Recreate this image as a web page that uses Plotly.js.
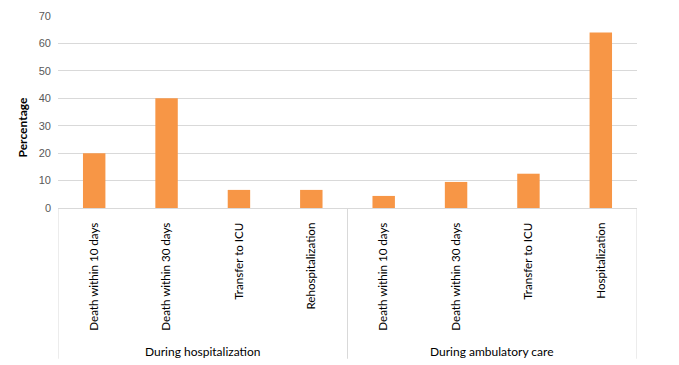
<!DOCTYPE html>
<html>
<head>
<meta charset="utf-8">
<script src="https://cdn.plot.ly/plotly-3.0.1.min.js"></script>
<style>html,body{margin:0;padding:0;background:#fff;}#chart{width:679px;height:365px;}</style>
</head>
<body>
<div id="chart"></div>
<script>
var groups = ["During hospitalization","During hospitalization","During hospitalization","During hospitalization",
              "During ambulatory care","During ambulatory care","During ambulatory care","During ambulatory care"];
var categories = ["Death within 10 days","Death within 30 days","Transfer to ICU","Rehospitalization",
                  "Death within 10 days","Death within 30 days","Transfer to ICU","Hospitalization"];
var percentages = [20, 40, 6.6, 6.6, 4.4, 9.5, 12.5, 64];
var yTicks = [0, 10, 20, 30, 40, 50, 60, 70];

var FONT = 'Lato, "Open Sans", sans-serif';
var idx = categories.map(function(c, i){ return i; });

// group spans derived from the groups array
var spans = [];
groups.forEach(function(g, i){
  if (!spans.length || spans[spans.length-1].name !== g) spans.push({name: g, start: i, end: i});
  else spans[spans.length-1].end = i;
});

var GROUP_Y = -0.745, DIV_BOTTOM = -0.785;
var shapes = [];
var annotations = [];
var bounds = [-0.5];
spans.forEach(function(s){ bounds.push(s.end + 0.5); });
bounds.forEach(function(b){
  shapes.push({type: 'line', xref: 'x', yref: 'paper', x0: b, x1: b, y0: 0, y1: DIV_BOTTOM,
               line: {color: '#D9D9D9', width: 1}});
});
spans.forEach(function(s){
  annotations.push({xref: 'x', yref: 'paper', x: (s.start + s.end) / 2, y: GROUP_Y,
                    text: s.name, showarrow: false, xanchor: 'center', yanchor: 'middle',
                    font: {family: FONT, size: 12, color: '#000000'}});
});
annotations.push({xref: 'paper', yref: 'paper', x: -0.062, y: 0.42, text: '<b>Percentage</b>',
                  textangle: -90, showarrow: false, xanchor: 'center', yanchor: 'middle',
                  font: {family: FONT, size: 12, color: '#000000'}});

var trace = {
  type: 'bar',
  x: idx,
  y: percentages,
  marker: {color: '#F79646'},
  width: 0.31,
  hoverinfo: 'y'
};

var layout = {
  width: 679, height: 365,
  margin: {l: 58, r: 42, t: 16, b: 157},
  paper_bgcolor: '#ffffff', plot_bgcolor: '#ffffff',
  showlegend: false,
  font: {family: FONT, size: 12, color: '#000000'},
  xaxis: {
    range: [-0.5, categories.length - 0.5],
    tickvals: idx, ticktext: categories,
    tickangle: -90,
    showline: true, linecolor: '#D9D9D9', linewidth: 1,
    ticks: '', showgrid: false, zeroline: false,
    ticklabelstandoff: 9,
    tickfont: {family: FONT, size: 11.6, color: '#000000'}
  },
  yaxis: {
    range: [0, 70],
    tickvals: yTicks,
    showgrid: true, gridcolor: '#D9D9D9', gridwidth: 1,
    zeroline: false, showline: false, ticks: '',
    ticklabelstandoff: 6,
    tickfont: {family: '"Liberation Sans", Arial, sans-serif', size: 11, color: '#595959'}
  },
  shapes: shapes,
  annotations: annotations
};

Plotly.newPlot('chart', [trace], layout, {displayModeBar: false, staticPlot: true});
</script>
</body>
</html>
